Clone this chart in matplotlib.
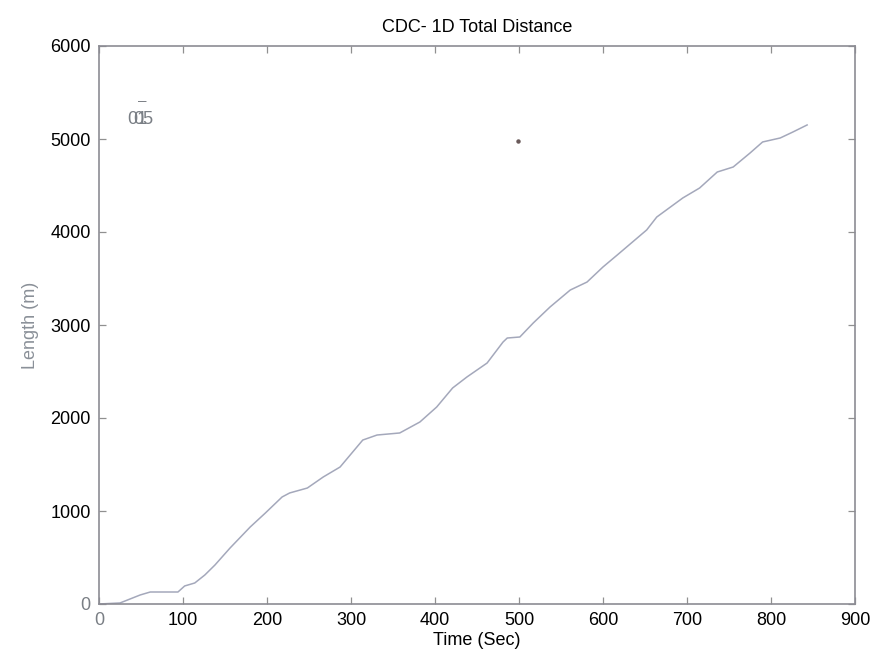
import numpy as np
import matplotlib.pyplot as plt

plt.rcParams['font.family'] = ['Liberation Sans', 'DejaVu Sans']

# --- Data ---
time_sec = [0, 25, 49, 61, 94, 102, 114, 126, 138, 156, 180, 198, 218, 227,
            248, 267, 287, 314, 331, 358, 382, 402, 421, 438, 462, 481, 486,
            501, 517, 537, 561, 581, 600, 617, 652, 664, 695, 715, 736, 755,
            775, 790, 811, 826, 843]
length_m = [0, 11, 97, 129, 129, 194, 226, 312, 419, 602, 828, 978, 1151, 1194,
            1247, 1366, 1473, 1763, 1817, 1839, 1957, 2118, 2323, 2441, 2591,
            2817, 2860, 2871, 3022, 3194, 3376, 3462, 3624, 3753, 4022, 4161,
            4366, 4473, 4645, 4699, 4849, 4968, 5011, 5075, 5151]

# stray dot on the scan
dot_x = [499]
dot_y = [4978]

x_ticks = [0, 100, 200, 300, 400, 500, 600, 700, 800, 900]
y_ticks = [0, 1000, 2000, 3000, 4000, 5000, 6000]

# --- Plot ---
fig = plt.figure(figsize=(8.73, 6.62), dpi=100)
ax = fig.add_axes([99 / 873, 1 - 604 / 662, (855 - 99) / 873, (604 - 46) / 662])

ax.plot(time_sec, length_m, color='#a4a8bb', linewidth=1.1)
ax.plot(dot_x, dot_y, 'o', color='#6a5a5a', markersize=2.2)

# overlapping legend remnants in the corner (they overlap in the original too)
ax.text(46, 5215, '01', color='#7a7f85', fontsize=13, ha='center', va='center')
ax.text(53, 5215, '05', color='#7a7f85', fontsize=13, ha='center', va='center')
ax.text(51, 5410, '–', color='#7a7f85', fontsize=11, ha='center', va='center')

ax.set_xlim(0, 900)
ax.set_ylim(0, 6000)
ax.set_xticks(x_ticks)
ax.set_yticks(y_ticks)
ax.tick_params(direction='in', top=True, right=True, length=5, width=0.9,
               color='#909090', labelsize=13, pad=6)
ax.get_xticklabels()[0].set_color('#7a7f85')
ax.get_yticklabels()[0].set_color('#7a7f85')
for s in ax.spines.values():
    s.set_color('#8c8c94')
    s.set_linewidth(1.2)

ax.set_title('CDC- 1D Total Distance', fontsize=13, pad=10)
ax.set_xlabel('Time (Sec)', fontsize=13, labelpad=2)
ax.set_ylabel('Length (m)', fontsize=13, color='#8a9098', labelpad=8)

plt.savefig('out.png', dpi=100)
